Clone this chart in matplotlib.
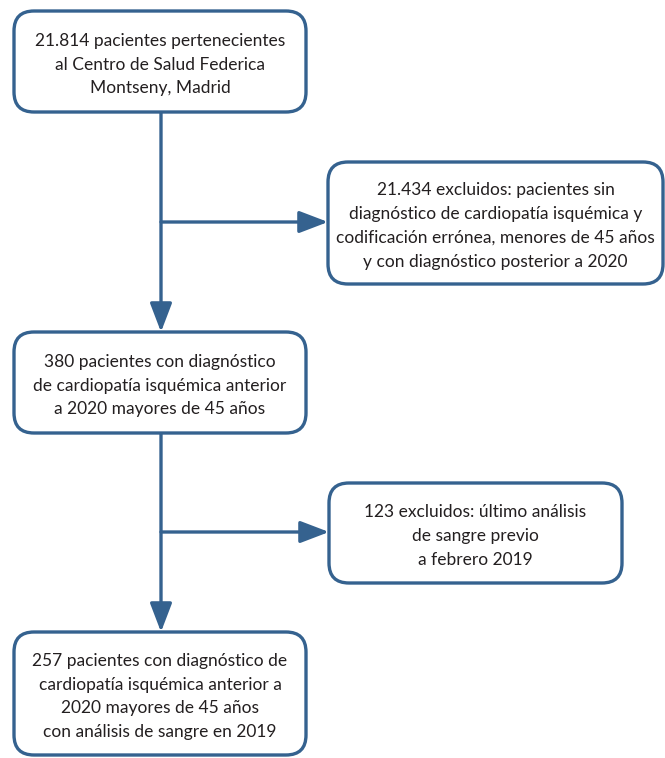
import matplotlib
matplotlib.use("Agg")
from matplotlib import pyplot as plt
from matplotlib.patches import FancyBboxPatch, FancyArrowPatch

# textos de las cajas del diagrama de flujo
main_steps = [
    "21.814 pacientes pertenecientes\nal Centro de Salud Federica\nMontseny, Madrid",
    "380 pacientes con diagnóstico\nde cardiopatía isquémica anterior\na 2020 mayores de 45 años",
    "257 pacientes con diagnóstico de\ncardiopatía isquémica anterior a\n2020 mayores de 45 años\ncon análisis de sangre en 2019",
]
excluded_steps = [
    "21.434 excluidos: pacientes sin\ndiagnóstico de cardiopatía isquémica y\ncodificación errónea, menores de 45 años\ny con diagnóstico posterior a 2020",
    "123 excluidos: último análisis\nde sangre previo\na febrero 2019",
]

# layout en pixeles (x0, y0, x1, y1)
main_boxes = [(14, 11, 306, 112), (14, 332, 306, 433), (14, 632, 306, 755)]
excl_boxes = [(328, 162, 663, 284), (329, 483, 622, 583)]
arrow_y = [222, 532]
spine_x = 161

BLUE = "#35628f"
TXT = "#231f20"

fig = plt.figure(figsize=(6.65, 7.58), dpi=100)
ax = fig.add_axes([0, 0, 1, 1])
ax.set_xlim(0, 665)
ax.set_ylim(758, 0)
ax.axis("off")


def box(ax, rect, text):
    x0, y0, x1, y1 = rect
    p = FancyBboxPatch((x0, y0), x1 - x0, y1 - y0,
                       boxstyle="round,pad=0,rounding_size=20",
                       fc="white", ec=BLUE, lw=2.4, zorder=3)
    ax.add_patch(p)
    ax.text((x0 + x1) / 2, (y0 + y1) / 2 + 3, text, ha="center", va="center",
            fontsize=12.5, color=TXT, family="Lato", linespacing=1.6, zorder=4)


def arrow(ax, start, end):
    a = FancyArrowPatch(start, end, arrowstyle="-|>,head_length=1.1,head_width=0.42",
                        mutation_scale=16, color=BLUE, lw=2.4,
                        shrinkA=0, shrinkB=0, zorder=2)
    ax.add_patch(a)


for rect, t in zip(main_boxes, main_steps):
    box(ax, rect, t)
for rect, t in zip(excl_boxes, excluded_steps):
    box(ax, rect, t)

# flechas verticales
for i in range(len(main_boxes) - 1):
    arrow(ax, (spine_x, main_boxes[i][3]), (spine_x, main_boxes[i + 1][1]))
# flechas hacia excluidos
for y, rect in zip(arrow_y, excl_boxes):
    arrow(ax, (spine_x, y), (rect[0], y))

fig.savefig("out.png", dpi=100)
